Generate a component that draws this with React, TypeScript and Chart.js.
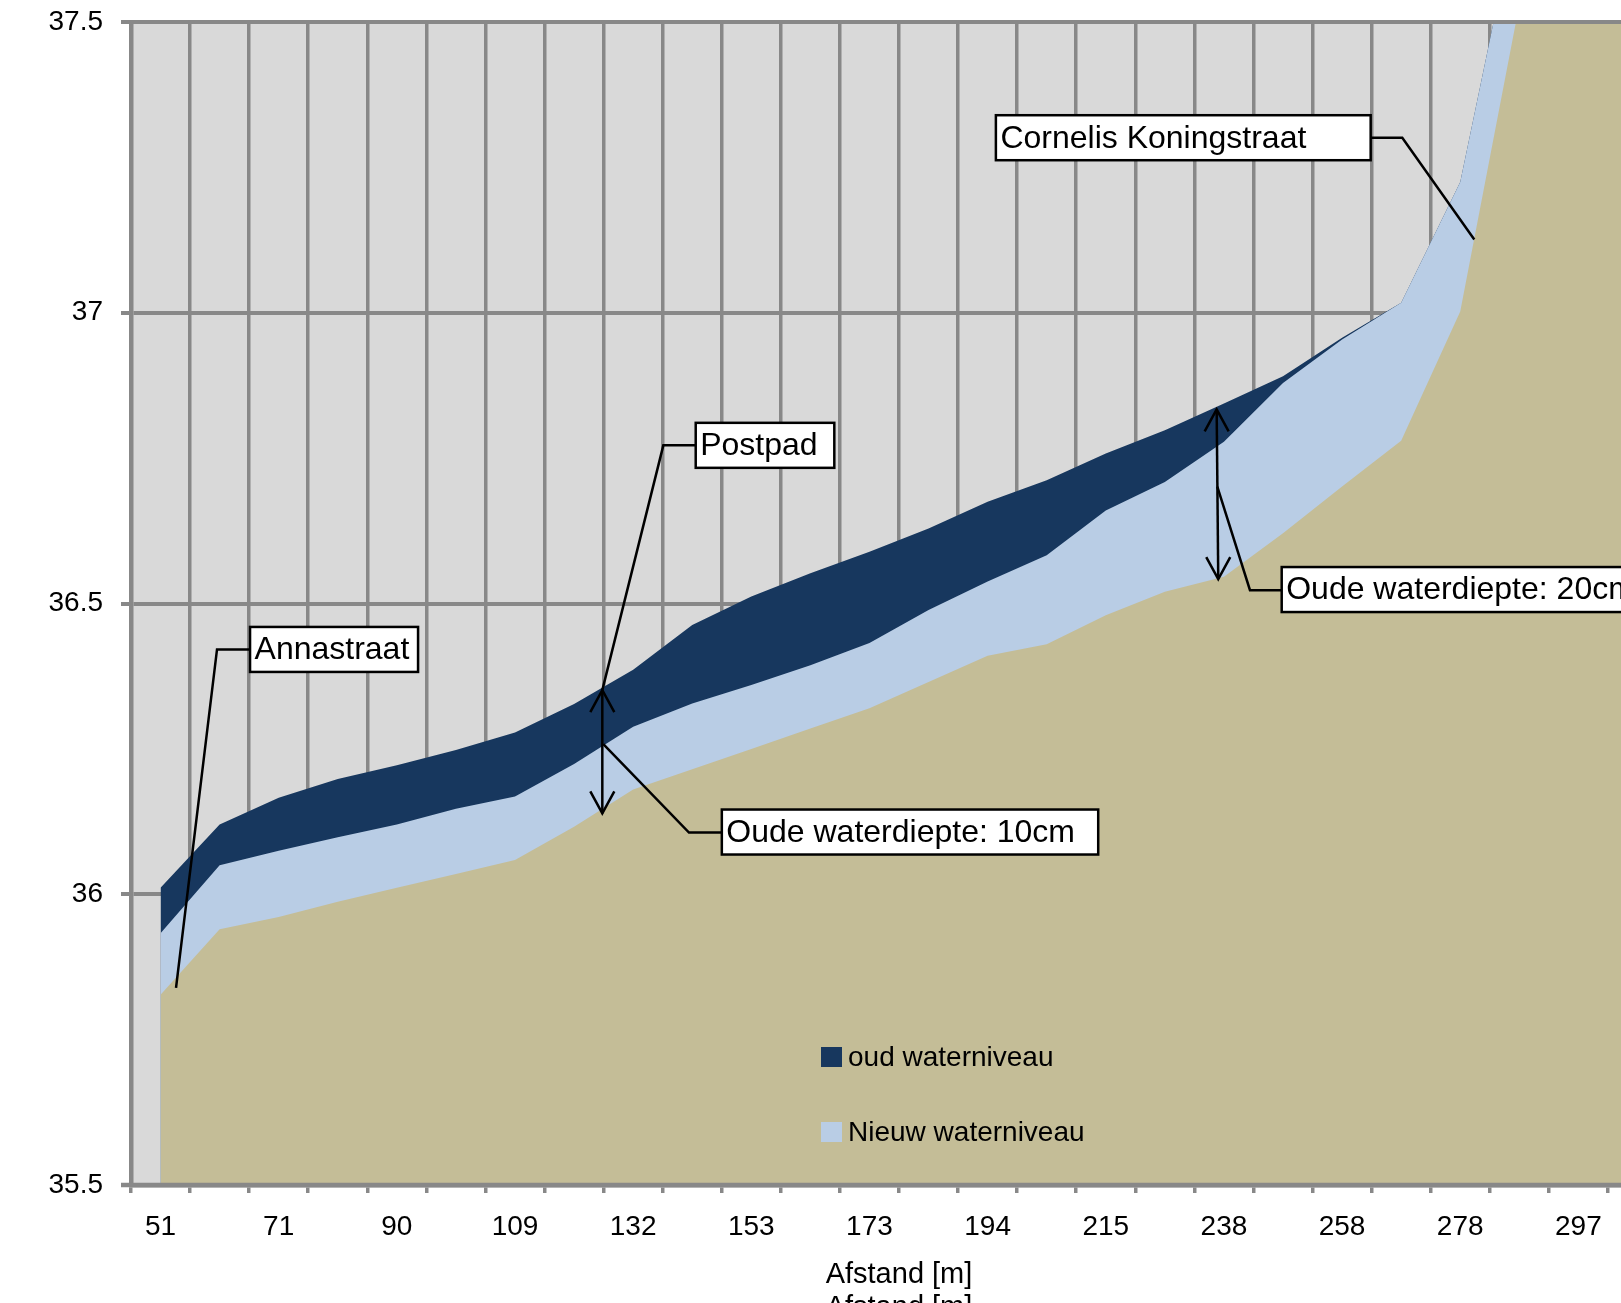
import React, { useEffect, useRef } from "react";
import { Chart, registerables } from "chart.js";

Chart.register(...registerables);

// ---------- data ----------
const categories = ["51", "61", "71", "81", "90", "100", "109", "120", "132", "142", "153", "163", "173", "183", "194", "204", "215", "226", "238", "248", "258", "268", "278", "288", "297", "306"];
const labeledEvery = 2;

const groundLevel = [35.827, 35.94, 35.961, 35.987, 36.011, 36.035, 36.059, 36.116, 36.18, 36.215, 36.25, 36.285, 36.32, 36.365, 36.41, 36.43, 36.48, 36.52, 36.546, 36.621, 36.701, 36.78, 37.002, 37.53, 37.9, 38.1];
const newWaterLevel = [35.933, 36.05, 36.075, 36.098, 36.12, 36.147, 36.168, 36.224, 36.288, 36.328, 36.36, 36.394, 36.432, 36.489, 36.538, 36.583, 36.66, 36.709, 36.778, 36.879, 36.954, 37.017, 37.225, 37.712, 38.0, 38.2];
const oldWaterLevel = [36.011, 36.12, 36.166, 36.198, 36.222, 36.248, 36.278, 36.327, 36.386, 36.463, 36.512, 36.552, 36.589, 36.629, 36.675, 36.712, 36.758, 36.798, 36.844, 36.891, 36.957, 37.017, 37.225, 37.712, 38.0, 38.2];

const yMin = 35.5;
const yMax = 37.5;
const yStep = 0.5;

const xTitle = "Afstand [m]";
const legendLabels = ["oud waterniveau", "Nieuw waterniveau"];

// callouts in data units (category index, value)
const calloutBoxes = [
  { text: "Annastraat", left: 1.515, right: 4.359, y: 36.421 },
  { text: "Postpad", left: 9.059, right: 11.405, y: 36.772 },
  { text: "Oude waterdiepte: 10cm", left: 9.501, right: 15.872, y: 36.107 },
  { text: "Cornelis Koningstraat", left: 14.14, right: 20.484, y: 37.301 },
  { text: "Oude waterdiepte: 20cm", left: 18.978, right: 25.2, y: 36.524 },
];
const leaderLines = [
  [[1.515, 36.421], [0.956, 36.421], [0.262, 35.839]],
  [[9.059, 36.772], [8.511, 36.772], [7.478, 36.351]],
  [[7.495, 36.258], [8.945, 36.106], [9.501, 36.106]],
  [[20.484, 37.301], [21.019, 37.301], [22.238, 37.126]],
  [[17.888, 36.701], [18.441, 36.523], [18.978, 36.523]],
];
const depthArrows = [
  { xTop: 7.478, top: 36.351, xBottom: 7.478, bottom: 36.139 },
  { xTop: 17.877, top: 36.834, xBottom: 17.904, bottom: 36.542 },
];

// ---------- styles ----------
const COLORS = {
  ground: "#C4BD97",
  newWater: "#B9CDE5",
  oldWater: "#17375E",
  plotBg: "#D9D9D9",
  grid: "#888888",
};
const FONT = "'Liberation Sans', Arial, sans-serif";
const CANVAS_W = 1690;
const CANVAS_H = 1330;

export default function App() {
  const ref = useRef<HTMLCanvasElement | null>(null);

  useEffect(() => {
    if (!ref.current) return;
    Chart.defaults.font.family = FONT;

    const bgPlugin = {
      id: "plotBg",
      beforeDraw(chart: any) {
        const { ctx, chartArea: a } = chart;
        ctx.save();
        ctx.fillStyle = COLORS.plotBg;
        ctx.fillRect(a.left, a.top, a.right - a.left, a.bottom - a.top);
        ctx.restore();
      },
      afterDatasetsDraw(chart: any) {
        const { ctx, chartArea: a } = chart;
        ctx.save();
        ctx.strokeStyle = COLORS.grid;
        ctx.lineWidth = 4;
        ctx.beginPath();
        ctx.moveTo(a.left, a.top);
        ctx.lineTo(a.right, a.top);
        ctx.stroke();
        ctx.lineWidth = 4.5;
        ctx.beginPath();
        ctx.moveTo(a.left - 10, a.bottom);
        ctx.lineTo(a.right, a.bottom);
        ctx.stroke();
        // legend
        const byLabel: any = {};
        chart.data.datasets.forEach((d: any) => (byLabel[d.label] = d));
        ctx.font = `28px ${FONT}`;
        ctx.textBaseline = "middle";
        ctx.fillStyle = "#000";
        legendLabels.forEach((lab, i) => {
          const ds = byLabel[lab];
          const cy = a.bottom - 128 + i * 75;
          const bx = a.left + 690;
          ctx.fillStyle = ds.backgroundColor;
          ctx.fillRect(bx, cy - 10, 21, 20);
          ctx.fillStyle = "#000";
          ctx.fillText(lab, bx + 27, cy + 1);
        });
        ctx.restore();
      },
      afterDraw(chart: any) {
        const { ctx, chartArea: a } = chart;
        const xs = chart.scales.x;
        const ys = chart.scales.y;
        const px = (v: number) => xs.getPixelForValue(v);
        const py = (v: number) => ys.getPixelForValue(v);
        ctx.save();
        // titles
        ctx.fillStyle = "#000";
        ctx.font = `29px ${FONT}`;
        ctx.textAlign = "center";
        ctx.textBaseline = "alphabetic";
        const cx = (a.left + a.right) / 2;
        ctx.fillText(xTitle, cx, a.bottom + 98);
        ctx.fillText(xTitle, cx, a.bottom + 131);

        // leader lines
        ctx.strokeStyle = "#000";
        ctx.lineWidth = 2.5;
        ctx.lineJoin = "miter";
        leaderLines.forEach((pts) => {
          ctx.beginPath();
          pts.forEach((p, i) => {
            const X = px(p[0]);
            const Y = py(p[1]);
            if (i === 0) ctx.moveTo(X, Y);
            else ctx.lineTo(X, Y);
          });
          ctx.stroke();
        });
        // arrows
        depthArrows.forEach((ar) => {
          const x1 = px(ar.xTop), y1 = py(ar.top), x2 = px(ar.xBottom), y2 = py(ar.bottom);
          ctx.beginPath();
          ctx.moveTo(x1, y1);
          ctx.lineTo(x2, y2);
          ctx.stroke();
          ctx.beginPath();
          ctx.moveTo(x1 - 12, y1 + 22);
          ctx.lineTo(x1, y1);
          ctx.lineTo(x1 + 12, y1 + 22);
          ctx.stroke();
          ctx.beginPath();
          ctx.moveTo(x2 - 12, y2 - 22);
          ctx.lineTo(x2, y2);
          ctx.lineTo(x2 + 12, y2 - 22);
          ctx.stroke();
        });
        // boxes
        ctx.font = `32px ${FONT}`;
        ctx.textAlign = "left";
        ctx.textBaseline = "middle";
        calloutBoxes.forEach((b) => {
          const l = px(b.left), r = px(b.right), cy = py(b.y);
          const h = 45;
          ctx.fillStyle = "#fff";
          ctx.fillRect(l, cy - h / 2, r - l, h);
          ctx.lineWidth = 2.5;
          ctx.strokeStyle = "#000";
          ctx.strokeRect(l, cy - h / 2, r - l, h);
          ctx.fillStyle = "#000";
          ctx.fillText(b.text, l + 4.5, cy + 1);
        });
        ctx.restore();
      },
    };

    const chart = new Chart(ref.current, {
      type: "line",
      data: {
        labels: categories,
        datasets: [
          { label: "Maaiveld", data: groundLevel, backgroundColor: COLORS.ground, borderWidth: 0, pointRadius: 0, fill: "start", tension: 0 },
          { label: "Nieuw waterniveau", data: newWaterLevel, backgroundColor: COLORS.newWater, borderWidth: 0, pointRadius: 0, fill: "start", tension: 0 },
          { label: "oud waterniveau", data: oldWaterLevel, backgroundColor: COLORS.oldWater, borderWidth: 0, pointRadius: 0, fill: "start", tension: 0 },
        ],
      },
      options: {
        animation: false,
        responsive: false,
        devicePixelRatio: 1,
        layout: { padding: { top: 22, right: CANVAS_W - 1667, bottom: 0, left: 0 } },
        plugins: { legend: { display: false }, tooltip: { enabled: false }, title: { display: false } },
        scales: {
          x: {
            type: "category",
            offset: true,
            grid: { offset: true, color: COLORS.grid, lineWidth: 3.5, tickLength: 8, drawOnChartArea: true },
            border: { display: true, color: COLORS.grid, width: 4.5 },
            ticks: {
              autoSkip: false,
              maxRotation: 0,
              color: "#000",
              font: { size: 28, family: FONT },
              padding: 17,
              callback: (_v: any, i: number) => (i % labeledEvery === 0 ? categories[i] : ""),
            },
            afterFit: (s: any) => {
              s.height = CANVAS_H - 1185;
              s.paddingLeft = 0;
              s.paddingRight = 0;
            },
          },
          y: {
            min: yMin,
            max: yMax,
            grid: { color: COLORS.grid, lineWidth: 4, tickLength: 10 },
            border: { display: true, color: COLORS.grid, width: 4.5 },
            ticks: {
              stepSize: yStep,
              color: "#000",
              font: { size: 28, family: FONT },
              padding: 18,
              callback: (v: any) => String(v),
            },
            afterFit: (s: any) => {
              s.width = 131;
              s.paddingTop = 0;
              s.paddingBottom = 0;
            },
          },
        },
      },
      plugins: [bgPlugin],
    } as any);
    return () => chart.destroy();
  }, []);

  return (
    <div style={{ position: "absolute", left: 0, top: 0, width: 1621, height: 1303, overflow: "hidden", background: "#fff" }}>
      <canvas ref={ref} width={CANVAS_W} height={CANVAS_H} style={{ width: CANVAS_W, height: CANVAS_H, display: "block" }} />
    </div>
  );
}
